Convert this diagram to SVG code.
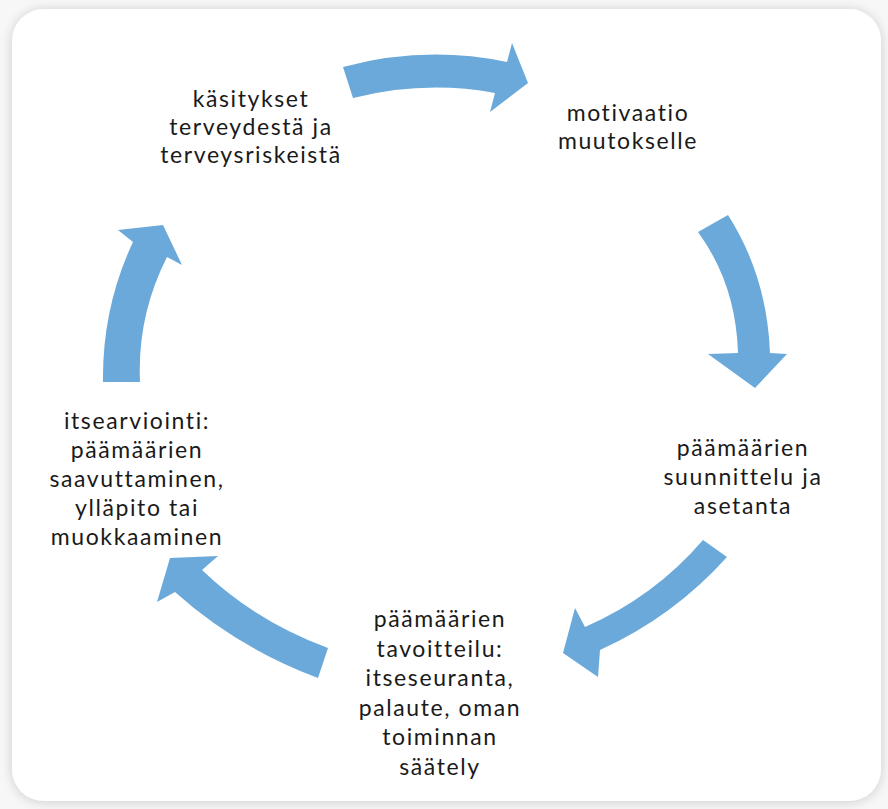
<svg xmlns="http://www.w3.org/2000/svg" width="888" height="809" viewBox="0 0 888 809">
<defs>
<filter id="sh" x="-10%" y="-10%" width="120%" height="120%">
<feGaussianBlur in="SourceAlpha" stdDeviation="6"/>
<feOffset dx="0" dy="1" result="b"/>
<feComponentTransfer><feFuncA type="linear" slope="0.18"/></feComponentTransfer>
<feMerge><feMergeNode/><feMergeNode in="SourceGraphic"/></feMerge>
</filter>
<style>
.arrow{fill:#6aa9da;stroke:none}
.lbl{font-family:Lato,"Open Sans",sans-serif;font-size:23px;letter-spacing:1.6px;fill:#1a1a1a;text-anchor:middle}
</style>
</defs>
<rect x="0" y="0" width="888" height="809" fill="#f7f7f7"/>
<rect x="12" y="9" width="869" height="792" rx="32" ry="32" fill="#ffffff" filter="url(#sh)"/>
<g id="connectors">
<path class="arrow" d="M343,67 Q425,45 507,62 L512,43 L528,83 L490,112 L495,93 Q425,80 353,98 Z"/>
<path class="arrow" d="M698,232 L728,215 Q767,276 770,353 L787,354 L755,388 L708,354 L738,353 Q736,284 698,232 Z"/>
<path class="arrow" d="M703,540 L727,557 Q673,617 600,650 L598,677 L563,653 L575,608 L585,627 Q654,597 703,540 Z"/>
<path class="arrow" d="M328,648 L318,678 Q236,647 175,592 L157,602 L170,558 L218,556 L202,570 Q255,621 328,648 Z"/>
<path class="arrow" d="M103,382 L140,382 Q137,316 167,257 L182,265 L163,225 L118,230 L133,242 Q102,308 103,382 Z"/>
</g>
<g id="node-kasitykset">
<text class="lbl" x="251" y="107">käsitykset</text>
<text class="lbl" x="251" y="135">terveydestä ja</text>
<text class="lbl" x="251" y="163">terveysriskeistä</text>
</g>
<g id="node-motivaatio">
<text class="lbl" x="628" y="121">motivaatio</text>
<text class="lbl" x="628" y="149">muutokselle</text>
</g>
<g id="node-suunnittelu">
<text class="lbl" x="743" y="456">päämäärien</text>
<text class="lbl" x="743" y="485">suunnittelu ja</text>
<text class="lbl" x="743" y="514">asetanta</text>
</g>
<g id="node-tavoitteilu">
<text class="lbl" x="440" y="627">päämäärien</text>
<text class="lbl" x="440" y="656.5">tavoitteilu:</text>
<text class="lbl" x="440" y="686">itseseuranta,</text>
<text class="lbl" x="440" y="715.5">palaute, oman</text>
<text class="lbl" x="440" y="745">toiminnan</text>
<text class="lbl" x="440" y="774.5">säätely</text>
</g>
<g id="node-itsearviointi">
<text class="lbl" x="137" y="429">itsearviointi:</text>
<text class="lbl" x="137" y="458">päämäärien</text>
<text class="lbl" x="137" y="487">saavuttaminen,</text>
<text class="lbl" x="137" y="516">ylläpito tai</text>
<text class="lbl" x="137" y="545">muokkaaminen</text>
</g>
</svg>
